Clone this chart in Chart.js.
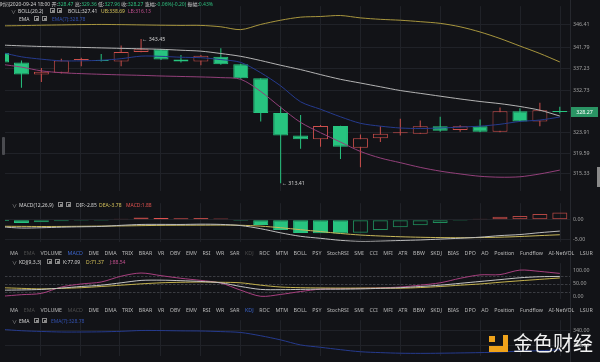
<!DOCTYPE html>
<html><head><meta charset="utf-8">
<script src="https://cdn.jsdelivr.net/npm/chart.js@4.4.1/dist/chart.umd.min.js"></script>
<style>
*{box-sizing:border-box}
html,body{margin:0;padding:0;background:#121317;}
#wrap{position:relative;width:600px;height:362px;overflow:hidden;background:#121317;font-family:"Noto Sans","Noto Sans CJK SC",sans-serif;}
canvas{position:absolute;left:0;}
.s{position:absolute;white-space:nowrap;font-size:10px;line-height:14px;height:14px;color:#c9c9c9;transform:scale(0.5);transform-origin:0 0;}
.gr{color:#9a9a9a}.gv{color:#2fbf7f}.yl{color:#d6c35a}.pk{color:#c2508f}.bl{color:#3250ad}.rd{color:#e0524f}.wh{color:#d2d2d2}
.ic{position:absolute;width:5px;height:5px;border:0.8px solid #8a8a8a;}
.ic i{position:absolute;left:1px;top:1px;width:2px;height:2px;background:#8a8a8a;}
.tabs{position:absolute;left:10px;width:583px;display:flex;justify-content:space-between;font-size:5.3px;line-height:7px;height:7px;color:#b9b9b9;white-space:nowrap;}
.tabs .dim{color:#4e4e4e}.tabs .act{color:#3d67d0}
</style></head>
<body><div id="wrap">
<canvas id="cMain" width="600" height="197" style="top:0"></canvas>
<canvas id="cMacd" width="600" height="51" style="top:197px"></canvas>
<canvas id="cKdj" width="600" height="48" style="top:257px"></canvas>
<canvas id="cEma" width="600" height="48" style="top:314px"></canvas>

<div style="position:absolute;left:570px;top:0;width:1px;height:362px;background:#26282e"></div>
<div style="position:absolute;left:2px;top:137px;width:3px;height:18px;background:#4a4b50;border-radius:1px"></div>
<div style="position:absolute;left:597px;top:167px;width:3px;height:20px;background:#8a8a8a"></div>

<div class="s" style="left:0;top:0"><span class="wh">时间2020-09-24 18:00</span> <span class="wh">开:</span><span class="gv">328.47</span> <span class="wh">高:</span><span class="gv">329.36</span> <span class="wh">低:</span><span class="gv">327.96</span> <span class="wh">收:</span><span class="gv">328.27</span> <span class="wh">涨幅:</span><span class="gv">-0.06%(-0.20)</span> <span class="wh">振幅:</span><span class="gv">0.43%</span></div>

<div class="s gr" style="left:11px;top:6.5px">∨</div>
<div class="s wh" style="left:18px;top:6.5px">BOLL(20,2)</div>
<div class="ic" style="left:50px;top:7.5px"><i></i></div><div class="ic" style="left:57px;top:7.5px"><i></i></div>
<div class="s wh" style="left:68px;top:6.5px">BOLL:327.41</div>
<div class="s yl" style="left:101px;top:6.5px">UB:338.69</div>
<div class="s pk" style="left:128px;top:6.5px">LB:316.13</div>

<div class="s wh" style="left:19px;top:15px">EMA</div>
<div class="ic" style="left:34px;top:16px"><i></i></div><div class="ic" style="left:42px;top:16px"><i></i></div>
<div class="s bl" style="left:52px;top:15px">EMA(7):328.78</div>

<div class="s gr" style="left:12px;top:201px">∨</div>
<div class="s wh" style="left:19px;top:201px">MACD(12,26,9)</div>
<div class="ic" style="left:58px;top:202px"><i></i></div><div class="ic" style="left:66px;top:202px"><i></i></div>
<div class="s wh" style="left:76px;top:201px">DIF:-2.85</div>
<div class="s yl" style="left:99px;top:201px">DEA:-3.78</div>
<div class="s rd" style="left:126px;top:201px">MACD:1.88</div>

<div class="tabs" id="tabs1" style="top:249.5px"></div>

<div class="s gr" style="left:12px;top:258px">∨</div>
<div class="s wh" style="left:19px;top:258px">KDJ(9,3,3)</div>
<div class="ic" style="left:47px;top:259px"><i></i></div><div class="ic" style="left:55px;top:259px"><i></i></div>
<div class="s wh" style="left:63px;top:258px">K:77.09</div>
<div class="s yl" style="left:86px;top:258px">D:71.37</div>
<div class="s pk" style="left:110px;top:258px">J:88.54</div>

<div class="tabs" id="tabs2" style="top:306.5px"></div>

<div class="s gr" style="left:12px;top:316.5px">∨</div>
<div class="s wh" style="left:19px;top:316.5px">EMA</div>
<div class="ic" style="left:34px;top:317.5px"><i></i></div><div class="ic" style="left:42px;top:317.5px"><i></i></div>
<div class="s bl" style="left:51px;top:316.5px">EMA(7):328.78</div>

<div style="position:absolute;left:489px;top:335px;width:110px;height:20px">
 <div style="position:absolute;left:0;top:1px;width:6px;height:6px;background:#f0a31b"></div>
 <div style="position:absolute;left:14px;top:0;width:5px;height:17px;background:#f0a31b"></div>
 <div style="position:absolute;left:0;top:11px;width:19px;height:6px;background:#f0a31b"></div>
 <div style="position:absolute;left:24px;top:-3px;font-size:20px;line-height:22px;color:#f2f2f2;font-family:'Noto Sans CJK SC';white-space:nowrap">金色财经</div>
</div>
</div>
<script>
// ---- data ----
const open  = [340.55,338.59,336.05,336.44,339.08,339.08,338.79,340.74,341.33,339.18,338.79,339.77,338.20,335.27,328.04,323.34,322.56,325.32,320.80,322.76,323.83,323.73,325.30,324.52,325.30,324.13,328.43,326.28,328.47];
const high  = [340.80,338.98,337.42,339.37,339.57,340.35,342.11,343.45,341.40,340.16,340.16,341.52,338.30,335.30,329.40,327.64,325.52,325.40,323.54,325.30,326.86,326.47,327.25,325.49,326.67,329.21,329.01,330.19,329.36];
const low   = [338.40,333.31,334.49,336.30,337.81,338.79,337.81,340.70,339.10,338.59,338.00,338.10,335.20,326.28,313.41,320.61,321.00,318.46,316.70,321.98,323.34,323.70,324.13,324.13,324.00,324.00,326.20,325.30,327.96];
const close = [338.59,336.05,336.64,338.98,339.28,338.88,340.74,341.33,339.18,338.79,339.96,338.20,335.27,328.04,323.34,322.56,325.32,321.00,322.76,323.73,324.03,325.30,324.32,325.30,324.13,328.43,326.28,328.62,328.27];
const bollUp  = [346.21,346.27,346.35,346.41,346.47,346.51,346.47,346.41,346.35,346.31,346.31,346.02,345.43,346.51,347.39,348.03,348.17,348.37,347.88,347.58,347.39,347.09,346.74,346.02,344.94,343.58,342.01,340.45,338.69];
const bollMid = [342.21,342.05,341.91,341.82,341.72,341.62,341.52,341.43,341.33,341.13,340.94,340.45,339.86,338.98,338.00,337.09,336.05,335.07,334.29,333.51,332.73,332.14,331.55,330.97,330.44,329.99,329.40,328.62,327.41];
const bollLow = [338.20,337.61,336.83,336.44,336.25,336.11,335.99,335.89,335.76,335.66,335.56,335.42,335.07,332.53,329.21,326.08,323.93,321.98,320.02,318.65,317.68,316.70,315.92,315.33,314.84,314.65,314.74,315.33,316.13];
const ema7    = [340.68,339.76,339.27,338.92,338.92,339.04,339.37,339.90,339.86,339.67,339.57,339.18,338.59,336.44,333.70,330.38,328.82,327.25,325.89,325.30,324.91,324.81,324.91,325.10,325.30,325.69,326.28,326.57,327.20];
const macdHist = [-0.30,-0.83,-0.63,-0.38,-0.25,-0.18,0.30,0.60,0.50,0.40,0.50,0.35,-0.15,-1.30,-2.60,-3.35,-3.42,-3.48,-3.25,-2.60,-1.90,-1.35,-0.77,-0.25,0.20,0.80,1.00,1.50,1.88];
const macdDif  = [-1.78,-2.08,-2.00,-1.86,-1.76,-1.67,-1.39,-1.17,-1.15,-1.17,-1.10,-1.16,-1.46,-2.25,-3.30,-4.18,-4.69,-5.20,-5.48,-5.40,-5.24,-5.10,-4.89,-4.67,-4.40,-4.00,-3.73,-3.25,-2.85];
const macdDea  = [-1.63,-1.66,-1.69,-1.67,-1.63,-1.58,-1.54,-1.47,-1.40,-1.37,-1.35,-1.33,-1.38,-1.60,-2.00,-2.50,-2.98,-3.46,-3.85,-4.10,-4.29,-4.42,-4.50,-4.54,-4.50,-4.40,-4.23,-4.00,-3.78];
const kdjK = [25,26,28,33,39,44,53,62,63,61,58,53,39,28,27,28,29,29,30,32,34.5,39,44,51,58,65,72,76,77.09];
const kdjD = [34.5,32,30,32,34.5,39,44,49,53,55,56,55,53,44,37,34.5,33.5,33,33,33,32.5,35,39,44,48.6,55,60.7,66,71.37];
const kdjJ = [2,8,13,37,48.6,56,78,90,80,70,62,52,25,2,9,20,29,31,32,34,37,44,53,70,83,84,101,96,88.54];
const priceTicks = [346.41,341.79,337.23,332.73,328.27,323.91,319.59,315.33];
const macdTicks = [0,-5];
const kdjTicks = [100,50,0];
const kdjLevels = [80,50,20];
const emaTicks = [340,330];
const tabLabels = ['MA','EMA','VOLUME','MACD','DMI','DMA','TRIX','BRAR','VR','OBV','EMV','RSI','WR','SAR','KDJ','ROC','MTM','BOLL','PSY','StochRSI','SMI','CCI','MFI','ATR','BBW','SKDJ','BIAS','DPO','AO','Position','Fundflow','AI-NetVOL','LSUR'];

// ---- tabs ----
function fillTabs(id, dim, act){
  const el = document.getElementById(id);
  tabLabels.forEach(t=>{const s=document.createElement('span'); s.textContent=t; if(dim.includes(t)) s.className='dim'; if(t===act) s.className='act'; el.appendChild(s);});
}
fillTabs('tabs1',['EMA','KDJ'],'MACD');
fillTabs('tabs2',['EMA','MACD'],'KDJ');

// ---- layout ----
const BG='#121317', GRID='#202228', GREEN='#27c47f', RED='#cc4f4c';
const X0=1.5, STEP=19.94, LEFT=5, RIGHT=570;
const XMIN=(LEFT-X0)/STEP, XMAX=(RIGHT-X0)/STEP;
const gridPx=[]; for(let p=40;p<=560;p+=40) gridPx.push(p);
const FONT='"Noto Sans", sans-serif';
const idx = open.map((_,i)=>i);

function xScale(){
  return {type:'linear',min:XMIN,max:XMAX,display:true,offset:false,bounds:'ticks',
    afterBuildTicks:s=>{s.ticks=gridPx.map(p=>({value:(p-X0)/STEP}));},
    afterFit:s=>{s.height=0;},
    ticks:{display:false},grid:{color:GRID,drawTicks:false,offset:false},border:{display:false}};
}
function yScale(min,max,ticks,showGrid){
  return {type:'linear',position:'right',min,max,
    afterBuildTicks:s=>{s.ticks=ticks.map(v=>({value:v}));},
    afterFit:s=>{s.width=30;},
    ticks:{color:'#a0a0a0',font:{size:5.3,family:FONT},padding:3,autoSkip:false,callback:v=>Number(v).toFixed(2)},
    grid:{display:showGrid,color:GRID,drawTicks:false},border:{display:false}};
}
function base(scales){
  return {responsive:false,animation:false,devicePixelRatio:1,events:[],
    layout:{padding:{left:LEFT,right:0,top:0,bottom:0}},
    plugins:{legend:{display:false},tooltip:{enabled:false}},scales};
}
function line(data,color,w){
  return {type:'line',data:idx.map(i=>({x:i,y:data[i]})),borderColor:color,borderWidth:w||1,pointRadius:0,tension:0.3,clip:0,order:0};
}

// ---- main chart ----
const up = idx.map(i=>close[i]>=open[i]);
const markers={id:'markers',afterDraw(chart){
  const {ctx,scales:{x,y}}=chart;
  const hi=Math.max(...high), hiI=high.indexOf(hi);
  const lo=Math.min(...low), loI=low.indexOf(lo);
  ctx.save();
  ctx.font='5.3px '+FONT; ctx.fillStyle='#d0d0d0'; ctx.textBaseline='middle'; ctx.textAlign='left';
  ctx.fillText('← '+hi.toFixed(2), x.getPixelForValue(hiI)+1, y.getPixelForValue(hi));
  ctx.fillText('← '+lo.toFixed(2), x.getPixelForValue(loI)+1, y.getPixelForValue(lo));
  const last=close[close.length-1], py=y.getPixelForValue(last);
  ctx.fillStyle='#2a9464'; ctx.fillRect(571,Math.round(py)-5,27,10);
  ctx.fillStyle='#ffffff'; ctx.textAlign='center'; ctx.fillText(last.toFixed(2),584.5,Math.round(py));
  ctx.restore();
}};
new Chart(document.getElementById('cMain'),{type:'bar',
  data:{datasets:[
    line(bollUp,'#a8963e'),
    line(bollMid,'#b4b4b4'),
    line(bollLow,'#93407a'),
    line(ema7,'#263b8e'),
    {type:'bar',data:idx.map(i=>({x:i,y:[open[i],close[i]]})),grouped:false,barThickness:15,minBarLength:1,inflateAmount:0,clip:0,order:1,
      backgroundColor:idx.map(i=>up[i]?((close[i]-open[i])*5.116<2.5?RED:BG):GREEN),
      borderColor:idx.map(i=>up[i]?RED:GREEN),borderWidth:1,borderSkipped:false},
    {type:'bar',data:idx.map(i=>({x:i,y:[low[i],high[i]]})),grouped:false,barThickness:1,inflateAmount:0,clip:0,order:2,
      backgroundColor:idx.map(i=>up[i]?RED:GREEN),borderWidth:0}
  ]},
  options:base({x:xScale(),y:yScale(311.81,350.32,priceTicks,true)}),
  plugins:[markers]});

// ---- MACD ----
const histFill = macdHist.map((v,i)=> i===0 || v < macdHist[i-1]);
new Chart(document.getElementById('cMacd'),{type:'bar',
  data:{datasets:[
    line(macdDif,'#bdbdbd'),
    line(macdDea,'#c9b85a'),
    {type:'bar',data:idx.map(i=>({x:i,y:macdHist[i]})),grouped:false,barThickness:15,minBarLength:1,inflateAmount:0,clip:0,order:1,
      backgroundColor:idx.map(i=>histFill[i]?(macdHist[i]>=0?'#e0524f':GREEN):'rgba(0,0,0,0)'),
      borderColor:idx.map(i=>macdHist[i]>=0?(histFill[i]?'#e0524f':'#b24643'):(histFill[i]?GREEN:'#1f8a5a')),
      borderWidth:1,borderSkipped:false}
  ]},
  options:base({x:xScale(),y:yScale(-5.577,4.231,macdTicks,true)})});

// ---- KDJ ----
const levels={id:'levels',beforeDatasetsDraw(chart){
  const {ctx,chartArea:a,scales:{y}}=chart;
  ctx.save(); ctx.strokeStyle='#3a3c42'; ctx.lineWidth=1; ctx.setLineDash([2.5,1.5]);
  kdjLevels.forEach(v=>{const py=Math.round(y.getPixelForValue(v))+0.5; ctx.beginPath(); ctx.moveTo(a.left,py); ctx.lineTo(a.right,py); ctx.stroke();});
  ctx.restore();
}};
new Chart(document.getElementById('cKdj'),{type:'line',
  data:{datasets:[line(kdjK,'#c4c4c4'),line(kdjD,'#c4b24e'),line(kdjJ,'#a8407f')]},
  options:base({x:xScale(),y:yScale(-7.58,127.2,kdjTicks,false)}),
  plugins:[levels]});

// ---- EMA panel ----
new Chart(document.getElementById('cEma'),{type:'line',
  data:{datasets:[line(ema7,'#263b8e')]},
  options:base({x:xScale(),y:yScale(323.19,346.72,emaTicks,true)})});
</script>
</body></html>
